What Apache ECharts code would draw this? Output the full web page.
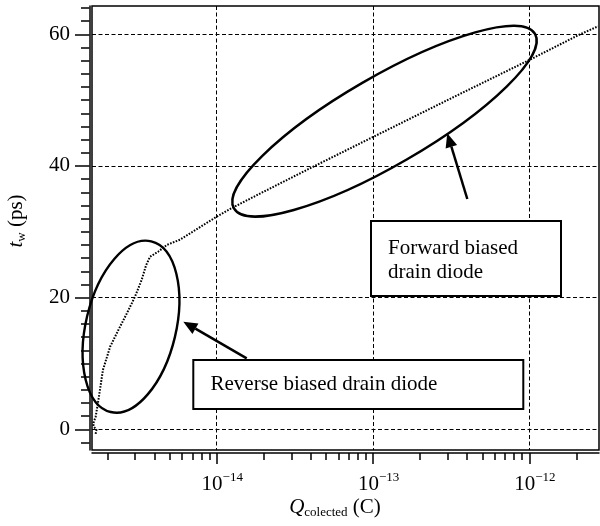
<!DOCTYPE html>
<html><head><meta charset="utf-8">
<script src="https://cdn.jsdelivr.net/npm/echarts@6/dist/echarts.min.js"></script>
<style>html,body{margin:0;padding:0;background:#fff}#c{width:600px;height:526px}</style>
</head><body><div id="c"></div>
<script>
// ---- data ----
const qCollected = [1.68e-15, 1.70e-15, 1.64e-15, 1.62e-15, 1.65e-15, 1.68e-15, 1.75e-15, 1.87e-15, 2.08e-15, 2.35e-15, 2.66e-15, 3.0e-15, 3.31e-15, 3.53e-15, 3.74e-15, 4.23e-15, 4.79e-15, 5.82e-15, 7.45e-15, 1.0e-14, 1.27e-14, 1.89e-14, 4.15e-14, 1.0e-13, 3.11e-13, 1.0e-12, 2.11e-12, 2.75e-12];
const tw = [-0.7, -0.1, 0.35, 0.8, 1.4, 1.9, 4.45, 9.0, 12.55, 15.1, 17.6, 20.15, 22.7, 24.9, 26.2, 27.0, 28.0, 28.8, 30.4, 32.3, 33.7, 35.8, 39.9, 44.4, 50.2, 56.1, 60.0, 61.2];

const xMajorTicks = [1e-14, 1e-13, 1e-12];
const xMinorTicks = [2e-15, 3e-15, 4e-15, 5e-15, 6e-15, 7e-15, 8e-15, 9e-15,
                     2e-14, 3e-14, 4e-14, 5e-14, 6e-14, 7e-14, 8e-14, 9e-14,
                     2e-13, 3e-13, 4e-13, 5e-13, 6e-13, 7e-13, 8e-13, 9e-13, 2e-12];
const yMajorTicks = [0, 20, 40, 60];
const yMinorTicks = [-2, 2, 4, 6, 8, 10, 12, 14, 16, 18, 22, 24, 26, 28, 30, 32, 34, 36, 38,
                     42, 44, 46, 48, 50, 52, 54, 56, 58, 62, 64];
const xRange = [1.592e-15, 2.79e-12];
const yRange = [-3.15, 64.3];

const labelReverse = 'Reverse biased drain diode';
const labelForward = ['Forward biased', 'drain diode'];

// ---- chart ----
const FONT = '"Liberation Serif", "Times New Roman", serif';
const chart = echarts.init(document.getElementById('c'), null, {renderer: 'canvas'});

function arrow(x1, y1, x2, y2) {
  const dx = x2 - x1, dy = y2 - y1, L = Math.hypot(dx, dy), ux = dx / L, uy = dy / L;
  const hl = 14, hw = 6;
  const bx = x2 - ux * hl, by = y2 - uy * hl;
  return [
    {type: 'line', z: 100, shape: {x1: x1, y1: y1, x2: bx, y2: by}, style: {stroke: '#000', lineWidth: 2.5}},
    {type: 'polygon', z: 100, shape: {points: [[x2, y2], [bx - uy * hw, by + ux * hw], [bx + uy * hw, by - ux * hw]]}, style: {fill: '#000'}}
  ];
}
function ellipse(cx, cy, a, b, deg) {
  return {type: 'ellipse', z: 100, x: cx, y: cy, rotation: deg * Math.PI / 180,
    shape: {cx: 0, cy: 0, rx: a, ry: b}, style: {fill: 'none', stroke: '#000', lineWidth: 2.4}};
}
function txt(t, x, y, opts) {
  return Object.assign({type: 'text', z: 101, x: x, y: y,
    style: {text: t, font: '21px ' + FONT, fill: '#000', align: 'left', verticalAlign: 'middle'}}, opts || {});
}

const axisLineStyle = {color: '#000', width: 1.5};
const gridDash = {type: [4, 2.5], color: '#000', width: 1};

const option = {
  animation: false,
  backgroundColor: '#fff',
  grid: {left: 92, right: 1, top: 6, bottom: 76, show: true, borderColor: '#000', borderWidth: 1.5},
  xAxis: [
    {type: 'log', logBase: 10, min: xRange[0], max: xRange[1], position: 'bottom', offset: 3,
     axisLine: {show: true, onZero: false, lineStyle: axisLineStyle},
     axisTick: {show: true, inside: false, length: 11, customValues: xMajorTicks, lineStyle: axisLineStyle},
     axisLabel: {show: true, customValues: xMajorTicks, margin: 18,
       formatter: function (v) { return '{b|10}{s|\u2212' + (-Math.round(Math.log10(v))) + '}'; },
       rich: {b: {fontSize: 21, fontFamily: FONT, color: '#000', padding: [0, 0, 0, 11]},
              s: {fontSize: 13, fontFamily: FONT, color: '#000', padding: [0, 0, 14, 0]}}},
     splitLine: {show: true, lineStyle: gridDash},
     minorTick: {show: false}, minorSplitLine: {show: false}},
    {type: 'log', logBase: 10, min: xRange[0], max: xRange[1], position: 'bottom', offset: 3,
     axisLine: {show: false, onZero: false},
     axisTick: {show: true, inside: false, length: 7, customValues: xMinorTicks, lineStyle: axisLineStyle},
     axisLabel: {show: false}, splitLine: {show: false}}
  ],
  yAxis: [
    {type: 'value', min: yRange[0], max: yRange[1], position: 'left', offset: 2.5,
     axisLine: {show: true, onZero: false, lineStyle: axisLineStyle},
     axisTick: {show: true, inside: false, length: 14.5, customValues: yMajorTicks, lineStyle: axisLineStyle},
     axisLabel: {show: true, customValues: yMajorTicks, margin: 19.5, fontSize: 21, fontFamily: FONT, color: '#000', padding: [3, 0, 0, 0]},
     splitLine: {show: true, lineStyle: gridDash}},
    {type: 'value', min: yRange[0], max: yRange[1], position: 'left', offset: 2.5,
     axisLine: {show: false, onZero: false},
     axisTick: {show: true, inside: false, length: 8.5, customValues: yMinorTicks, lineStyle: axisLineStyle},
     axisLabel: {show: false}, splitLine: {show: false}}
  ],
  series: [{
    type: 'line', xAxisIndex: 0, yAxisIndex: 0, showSymbol: false, symbol: 'none', smooth: false,
    data: qCollected.map((q, i) => [q, tw[i]]),
    lineStyle: {color: '#000', width: 2, type: [1.6, 1.4]}, z: 5
  }],
  graphic: [
    ellipse(131, 326.7, 87.7, 45.1, 76.65),
    ellipse(384.5, 121.2, 174.0, 44.3, 30.1),
    ...arrow(467.3, 199, 447.3, 133.3),
    ...arrow(246.7, 358.3, 183.3, 321.7),
    {type: 'rect', z: 100, shape: {x: 371, y: 221, width: 190, height: 75}, style: {fill: '#fff', stroke: '#000', lineWidth: 2}},
    {type: 'rect', z: 100, shape: {x: 193.3, y: 360, width: 330, height: 49}, style: {fill: '#fff', stroke: '#000', lineWidth: 2}},
    txt(labelForward[0], 388, 248),
    txt(labelForward[1], 388, 272),
    txt(labelReverse, 210.5, 384),
    {type: 'text', z: 101, x: 335, y: 507,
     style: {text: '{i|Q}{s|colected}{n| (C)}', align: 'center', verticalAlign: 'middle', fill: '#000', font: '21px ' + FONT,
       rich: {i: {fontStyle: 'italic', fontSize: 21, fontFamily: FONT, fill: '#000'},
              s: {fontSize: 13, fontFamily: FONT, fill: '#000', padding: [11, 0, 0, 0]},
              n: {fontSize: 21, fontFamily: FONT, fill: '#000'}}}},
    {type: 'text', z: 101, x: 16, y: 221, rotation: Math.PI / 2,
     style: {text: '{i|t}{s|w}{n| (ps)}', align: 'center', verticalAlign: 'middle', fill: '#000', font: '21px ' + FONT,
       rich: {i: {fontStyle: 'italic', fontSize: 21, fontFamily: FONT, fill: '#000'},
              s: {fontSize: 13, fontFamily: FONT, fill: '#000', padding: [11, 0, 0, 0]},
              n: {fontSize: 21, fontFamily: FONT, fill: '#000'}}}}
  ]
};
chart.setOption(option);
</script>
</body></html>
